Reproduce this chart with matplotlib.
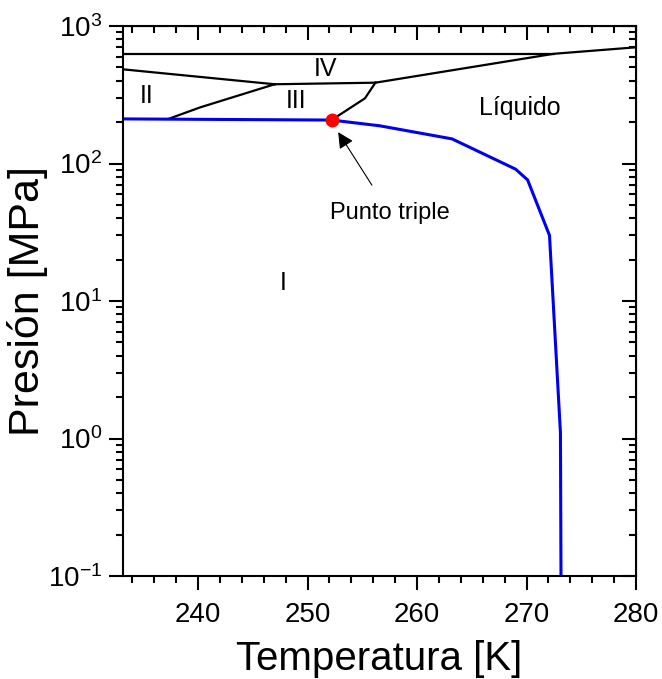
import matplotlib
matplotlib.use("Agg")
import matplotlib.pyplot as plt
from matplotlib.ticker import LogLocator, MultipleLocator, NullFormatter

plt.rcParams['font.family'] = ['Liberation Sans', 'DejaVu Sans']
plt.rcParams['mathtext.fontset'] = 'custom'
plt.rcParams['mathtext.rm'] = 'Liberation Sans'
plt.rcParams['mathtext.it'] = 'Liberation Sans'

# Ice I - liquid melting curve (blue)
melt_T = [233.15, 252.2, 256.6, 263.2, 269.0, 270.1, 272.1, 273.1, 273.15]
melt_P = [211, 207, 188, 151, 91, 76, 30, 1.1, 0.1]

# Ice V / VI boundary (horizontal)
b56_T = [233.15, 272.5]
b56_P = [628, 628]

# II / IV (V) boundary
b24_T = [233.15, 247.0]
b24_P = [484, 377]

# II / III boundary
b23_T = [237.3, 240.2, 247.0]
b23_P = [211, 256, 377]

# III / IV (V) boundary
b34_T = [247.0, 256.2]
b34_P = [377, 387]

# III / liquid boundary
b3L_T = [252.2, 255.25, 256.2]
b3L_P = [207, 298, 387]

# V-VI / liquid boundary
bHL_T = [256.2, 272.5, 280.0]
bHL_P = [387, 628, 700]

triple_T = [252.2]
triple_P = [207]

fig = plt.figure(figsize=(6.62, 6.79), dpi=100)
ax = fig.add_axes([123/662, 1-576/679, (636-123)/662, (576-26)/679])

for T, P in [(b56_T, b56_P), (b24_T, b24_P), (b23_T, b23_P),
             (b34_T, b34_P), (b3L_T, b3L_P), (bHL_T, bHL_P)]:
    ax.plot(T, P, color='black', lw=1.6, solid_joinstyle='miter')
ax.plot(melt_T, melt_P, color='#0000ee', lw=2.2)
ax.plot(triple_T, triple_P, 'o', color='red', markersize=9, zorder=5)

ax.set_yscale('log')
ax.set_xlim(233.15, 280)
ax.set_ylim(0.1, 1000)

ax.xaxis.set_major_locator(MultipleLocator(10))
ax.xaxis.set_minor_locator(MultipleLocator(2))
ax.yaxis.set_major_locator(LogLocator(base=10, numticks=10))
ax.yaxis.set_minor_locator(LogLocator(base=10, subs=range(2, 10), numticks=20))
ax.yaxis.set_minor_formatter(NullFormatter())

ax.tick_params(which='both', direction='out', width=1.5, labelsize=20,
               top=False, right=False)
ax.tick_params(axis='x', which='major', pad=9)
ax.tick_params(axis='y', which='major', pad=5)
ax.tick_params(which='major', length=10)
ax.tick_params(which='minor', length=5)
for s in ax.spines.values():
    s.set_linewidth(1.5)

secx = ax.secondary_xaxis('top')
secx.xaxis.set_major_locator(MultipleLocator(10))
secx.xaxis.set_minor_locator(MultipleLocator(2))
secx.tick_params(which='both', direction='in', width=1.5, labeltop=False)
secx.tick_params(which='major', length=10)
secx.tick_params(which='minor', length=5)
secy = ax.secondary_yaxis('right')
secy.set_yscale('log')
secy.yaxis.set_major_locator(LogLocator(base=10, numticks=10))
secy.yaxis.set_minor_locator(LogLocator(base=10, subs=range(2, 10), numticks=20))
secy.tick_params(which='both', direction='in', width=1.5, labelright=False)
secy.tick_params(which='major', length=10)
secy.tick_params(which='minor', length=5)

ax.set_xlabel('Temperatura [K]', fontsize=29, labelpad=8)
ax.set_ylabel('Presión [MPa]', fontsize=31, labelpad=0)

lab_kw = dict(fontsize=18, ha='center', va='center')
ax.text(251.6, 487, 'IV', **lab_kw)
ax.text(235.3, 310, 'II', **lab_kw)
ax.text(249.0, 285, 'III', **lab_kw)
ax.text(269.4, 254, 'Líquido', **lab_kw)
ax.text(247.8, 13.5, 'I', **lab_kw)
ax.annotate('Punto triple', xy=(252.8, 169), xytext=(257.5, 43.7),
            fontsize=17, ha='center', va='center',
            arrowprops=dict(arrowstyle='-|>', color='black', lw=0.8,
                            mutation_scale=24, shrinkA=12, shrinkB=0))

fig.savefig('out.png', dpi=100)
